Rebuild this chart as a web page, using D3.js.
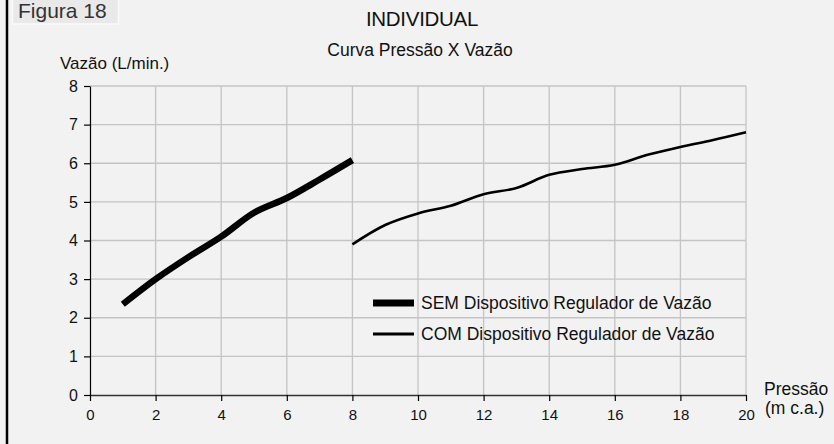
<!DOCTYPE html>
<html>
<head>
<meta charset="utf-8">
<script src="https://cdn.jsdelivr.net/npm/d3@7"></script>
<style>
  body { margin: 0; background: #f2f2f2; }
  svg { display: block; font-family: "Liberation Sans", Arial, sans-serif; }
</style>
</head>
<body>
<svg id="chart" width="834" height="444"></svg>
<script>
const width = 834;
const height = 444;

// dados
const semPressao = [1, 2, 3, 4, 5, 6, 7, 8];
const semVazao = [2.35, 3.0, 3.57, 4.1, 4.72, 5.1, 5.58, 6.08];
const comPressao = [8, 9, 10, 11, 12, 13, 14, 15, 16, 17, 18, 19, 20];
const comVazao = [3.9, 4.4, 4.7, 4.9, 5.2, 5.36, 5.7, 5.85, 5.96, 6.22, 6.42, 6.6, 6.8];
const xTicks = [0, 2, 4, 6, 8, 10, 12, 14, 16, 18, 20];
const yTicks = [0, 1, 2, 3, 4, 5, 6, 7, 8];
const series = ["SEM Dispositivo Regulador de Vazão", "COM Dispositivo Regulador de Vazão"];

const svg = d3.select("#chart");

svg.append("rect").attr("width", width).attr("height", height).attr("fill", "#f2f2f2");

// moldura esquerda
svg.append("line")
    .attr("x1", 7).attr("x2", 7).attr("y1", 0).attr("y2", height)
    .attr("stroke", "#000").attr("stroke-width", 2.5);

// caixa "Figura 18"
svg.append("rect")
    .attr("x", 12.5).attr("y", -1).attr("width", 106).attr("height", 25)
    .attr("fill", "#e9e9e9").attr("stroke", "#fafafa").attr("stroke-width", 1.5);
svg.append("text")
    .attr("x", 18).attr("y", 18)
    .attr("font-size", 21).attr("fill", "#333")
    .text("Figura 18");

const x = d3.scaleLinear().domain([0, 20]).range([90, 746]);
const y = d3.scaleLinear().domain([0, 8]).range([395, 86]);

// grade
svg.append("g")
    .selectAll("line")
    .data(xTicks.slice(1))
    .join("line")
    .attr("x1", d => x(d)).attr("x2", d => x(d))
    .attr("y1", y(8)).attr("y2", y(0))
    .attr("stroke", "#c4c4c4").attr("stroke-width", 1.3);

svg.append("g")
    .selectAll("line")
    .data(yTicks.slice(1))
    .join("line")
    .attr("x1", x(0)).attr("x2", x(20))
    .attr("y1", d => y(d)).attr("y2", d => y(d))
    .attr("stroke", "#c4c4c4").attr("stroke-width", 1.3);

// eixos
const xAxis = svg.append("g")
    .attr("transform", `translate(0,${y(0)})`)
    .call(d3.axisBottom(x).tickValues(xTicks).tickSize(6).tickSizeOuter(0).tickPadding(8));
xAxis.select(".domain").attr("stroke", "#333").attr("stroke-width", 1.5);
xAxis.selectAll(".tick line").attr("stroke", "#000").attr("stroke-width", 1.2);
xAxis.attr("font-size", 15).attr("font-family", "Liberation Sans, Arial, sans-serif");
xAxis.selectAll("text").attr("fill", "#111");

const yAxis = svg.append("g")
    .attr("transform", `translate(${x(0)},0)`)
    .call(d3.axisLeft(y).tickValues(yTicks).tickSize(6).tickSizeOuter(0).tickPadding(6));
yAxis.select(".domain").attr("stroke", "#000").attr("stroke-width", 1.2);
yAxis.selectAll(".tick line").attr("stroke", "#000").attr("stroke-width", 1.2);
yAxis.attr("font-size", 16).attr("font-family", "Liberation Sans, Arial, sans-serif");
yAxis.selectAll("text").attr("fill", "#111");

// curvas
const line = d3.line()
    .x(d => x(d[0]))
    .y(d => y(d[1]))
    .curve(d3.curveCatmullRom.alpha(0.5));

svg.append("path")
    .datum(d3.zip(semPressao, semVazao))
    .attr("d", line)
    .attr("fill", "none").attr("stroke", "#000").attr("stroke-width", 6.5);

svg.append("path")
    .datum(d3.zip(comPressao, comVazao))
    .attr("d", line)
    .attr("fill", "none").attr("stroke", "#000").attr("stroke-width", 2.6);

// legenda
const legend = svg.append("g").attr("transform", "translate(373,0)");
[[303, 7], [334, 3]].forEach(([ly, w], i) => {
    legend.append("line")
        .attr("x1", 0).attr("x2", 41).attr("y1", ly).attr("y2", ly)
        .attr("stroke", "#000").attr("stroke-width", w);
    legend.append("text")
        .attr("x", 48).attr("y", ly + 6)
        .attr("font-size", 17.5).attr("fill", "#111")
        .text(series[i]);
});

// títulos
svg.append("text")
    .attr("x", 422).attr("y", 26)
    .attr("text-anchor", "middle")
    .attr("font-size", 20.5).attr("fill", "#111")
    .attr("letter-spacing", -0.3)
    .text("INDIVIDUAL");

svg.append("text")
    .attr("x", 420).attr("y", 56)
    .attr("text-anchor", "middle")
    .attr("font-size", 17.5).attr("fill", "#111")
    .text("Curva Pressão X Vazão");

svg.append("text")
    .attr("x", 60).attr("y", 69)
    .attr("font-size", 17).attr("fill", "#111")
    .text("Vazão (L/min.)");

svg.append("text")
    .attr("x", 764).attr("y", 395)
    .attr("font-size", 17.5).attr("fill", "#111")
    .text("Pressão");
svg.append("text")
    .attr("x", 765).attr("y", 414)
    .attr("font-size", 17.5).attr("fill", "#111")
    .text("(m c.a.)");
</script>
</body>
</html>
